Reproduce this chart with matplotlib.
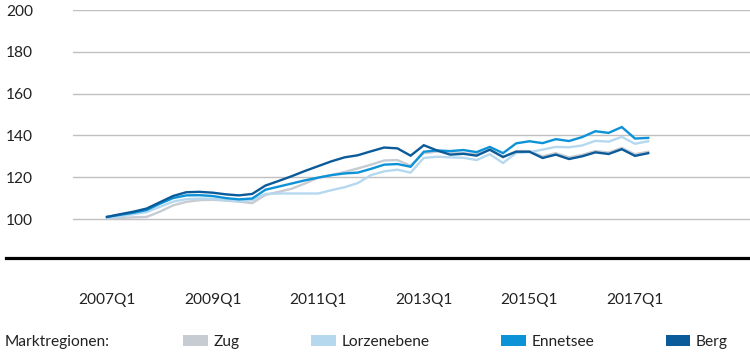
import numpy as np
import matplotlib
matplotlib.use("Agg")
import matplotlib.pyplot as plt
from matplotlib.patches import Patch
from matplotlib.lines import Line2D

plt.rcParams['font.family'] = ['Lato', 'DejaVu Sans']

# quarterly index values, 2007Q1 .. 2017Q2
zug = [100.3, 100.5, 100.8, 101, 103.5, 106.5, 108.2, 109, 109.2, 108.8,
       108.3, 107.6, 111.5, 113, 114.5, 117, 119.8, 121, 122.5, 124.2,
       126, 128, 128.2, 125.5, 131.5, 132.3, 132, 131.5, 131, 133,
       129.5, 132.5, 132.5, 130, 131.5, 129.5, 130.7, 132.5, 131.8, 134,
       131, 132.2]
lorzenebene = [100.5, 101.3, 102.3, 103.3, 105.8, 108.3, 109.5, 109.8, 109.7, 109,
               108.6, 109, 112, 112.2, 112.2, 112.2, 112.2, 113.8, 115.2, 117.2,
               121, 122.8, 123.6, 122.2, 129.2, 129.8, 129.5, 129.3, 128.2, 131,
               126.8, 131.6, 132, 133.2, 134.5, 134.3, 135.2, 137.4, 137, 139.3,
               136, 137.2]
ennetsee = [101, 102, 103, 104.3, 107.3, 110, 111.3, 111.4, 111, 110,
            109.4, 109.8, 114, 115.5, 117, 118.5, 119.8, 121, 121.8, 122.2,
            124, 126, 126.3, 125, 132.2, 132.8, 132.5, 133, 132, 134.5,
            131.5, 136.2, 137.2, 136.3, 138.2, 137.3, 139.2, 142, 141.2, 144,
            138.5, 138.8]
berg = [101, 102.3, 103.5, 105, 108, 111, 112.8, 113, 112.6, 111.8,
        111.3, 112, 116, 118.2, 120.5, 123, 125.3, 127.6, 129.5, 130.5,
        132.4, 134.2, 133.8, 130.3, 135.3, 132.8, 130.8, 131.2, 130.3, 133.2,
        129.7, 132.2, 132.2, 129.2, 130.8, 128.7, 130, 131.9, 131.1, 133.4,
        130.2, 131.5]

names = ['Zug', 'Lorzenebene', 'Ennetsee', 'Berg']
colors = ['#c6ccd2', '#b5d8ef', '#0c92d6', '#0b5a99']
tick_pos = [0, 8, 16, 24, 32, 40]
tick_labels = ['2007Q1', '2009Q1', '2011Q1', '2013Q1', '2015Q1', '2017Q1']
yticks = [100, 120, 140, 160, 180, 200]

W, H = 750, 355
fs = 11.2
fig = plt.figure(figsize=(W / 100, H / 100), dpi=100)
ax = fig.add_axes([72.7 / W, 1 - 258.3 / H, 1 - 72.7 / W, (258.3 - 10) / H])

x = np.arange(len(berg))
for s, c in zip([zug, lorzenebene, ennetsee, berg], colors):
    ax.plot(x, s, color=c, lw=1.7, solid_joinstyle='miter')

ax.set_ylim(81.2, 200)
ax.set_xlim(-(107 - 72.7) / 13.2, (750 - 107) / 13.2)
ax.set_yticks(yticks)
ax.set_yticklabels([str(v) for v in yticks], ha='left')
ax.set_xticks(tick_pos)
ax.set_xticklabels(tick_labels)
ax.tick_params(axis='y', length=0, pad=48, labelsize=fs, labelcolor='#222222')
ax.tick_params(axis='x', length=0, pad=25, labelsize=fs, labelcolor='#222222')
ax.grid(axis='y', color='#c0c0c0', lw=1.0)
ax.set_axisbelow(True)
for sp in ax.spines.values():
    sp.set_visible(False)

# heavy baseline running across the full width
fig.add_artist(Line2D([6 / W, 1], [1 - 258.3 / H] * 2, color='black', lw=2.3))

fig.text(5 / W, 1 - 342 / H, 'Marktregionen:', fontsize=fs, color='#222222',
         va='center', ha='left')
handles = [Patch(facecolor=c, edgecolor='none', label=n) for n, c in zip(names, colors)]
fig.legend(handles=handles, ncol=4, loc='center left',
           bbox_to_anchor=(183 / W, 1 - 342 / H), frameon=False,
           fontsize=fs, handlelength=1.6, handleheight=0.7, handletextpad=0.35,
           columnspacing=4.6, borderpad=0, borderaxespad=0, labelcolor='#222222')

fig.savefig('out.png', dpi=100)
